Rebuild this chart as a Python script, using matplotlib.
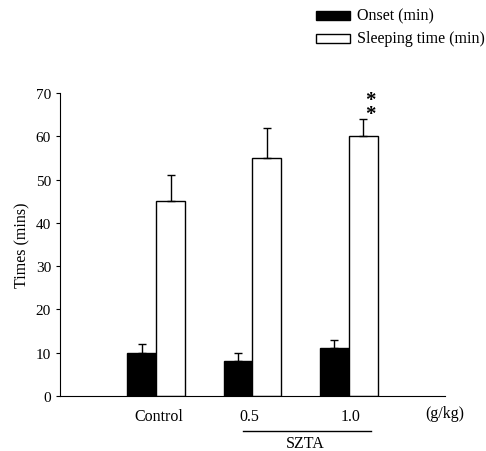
import numpy as np
import matplotlib.pyplot as plt
from matplotlib.patches import Rectangle

plt.rcParams['font.family'] = ['Liberation Serif', 'DejaVu Serif']

# data
groups = ['Control', '0.5', '1.0']
onset = [10, 8, 11]
onset_err = [2, 2, 2]
sleeping = [45, 55, 60]
sleeping_err = [6, 7, 4]
yticks = [0, 10, 20, 30, 40, 50, 60, 70]
legend_labels = ['Onset (min)', 'Sleeping time (min)']

x = np.arange(len(groups))
w = 0.30

fig = plt.figure(figsize=(4.86, 4.52), dpi=100)
ax = fig.add_axes([0.1235, 0.1217, 0.792, 0.670])

ax.bar(x - w / 2, onset, w, color='black', edgecolor='black', linewidth=1)
ax.bar(x + w / 2, sleeping, w, color='white', edgecolor='black', linewidth=1)
ax.errorbar(x - w / 2, onset, yerr=[np.zeros(3), onset_err], fmt='none',
            ecolor='black', elinewidth=1, capsize=3, capthick=1)
ax.errorbar(x + w / 2, sleeping, yerr=[np.zeros(3), sleeping_err], fmt='none',
            ecolor='black', elinewidth=1, capsize=3, capthick=1)

# significance marks
ax.text(x[2] + w / 2 + 0.07, sleeping[2] + sleeping_err[2] - 1.2, '*\n*',
        ha='center', va='bottom', fontsize=15, fontweight='bold', linespacing=0.6)

ax.set_xlim(-1.0, 3.0)
ax.set_ylim(0, 70)
ax.set_yticks(yticks)
ax.set_xticks([0.03, 0.97, 2.02])
ax.set_xticklabels(groups, fontsize=11.5)
ax.tick_params(axis='x', length=0, pad=9)
ax.tick_params(axis='y', direction='out', length=3, labelsize=11)
ax.spines['top'].set_visible(False)
ax.spines['right'].set_visible(False)
ax.set_ylabel('Times (mins)', fontsize=11.5)

ax.text(2.8, -3.9, '(g/kg)', fontsize=11.5, ha='left', va='center', clip_on=False)
ax.plot([0.9, 2.23], [-8.1, -8.1], color='black', lw=1, clip_on=False)
ax.text(1.55, -10.8, 'SZTA', fontsize=11.5, ha='center', va='center')

# legend drawn by hand in figure coordinates
W, H = 486, 452
for i, (lab, fc) in enumerate(zip(legend_labels, ['black', 'white'])):
    yc = 16 + 23 * i
    fig.add_artist(Rectangle((316 / W, 1 - (yc + 4.5) / H), 34 / W, 9 / H,
                             facecolor=fc, edgecolor='black', lw=1,
                             transform=fig.transFigure))
    fig.text(357 / W, 1 - yc / H, lab, fontsize=11.5, ha='left', va='center')

fig.savefig('out.png', dpi=100)
